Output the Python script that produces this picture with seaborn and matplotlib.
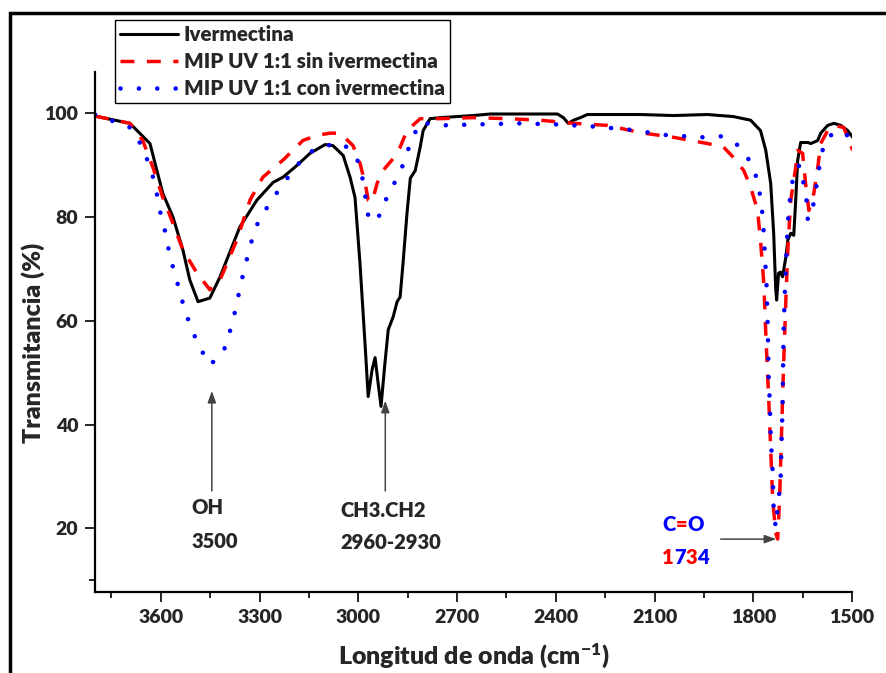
import matplotlib
matplotlib.use("Agg")
import matplotlib.pyplot as plt
import seaborn as sns
import pandas as pd
import numpy as np
from matplotlib.patches import Rectangle

# FTIR spectra (wavenumber cm-1, transmittance %)
wn_iver = [3800, 3694, 3633, 3594, 3563, 3533, 3512, 3487, 3451, 3420, 3360, 3308, 3259, 3229,
           3186, 3147, 3101, 3077, 3046, 3025, 3010, 2995, 2979, 2970, 2958, 2949, 2940, 2931,
           2919, 2909, 2894, 2882, 2873, 2864, 2852, 2842, 2827, 2812, 2803, 2782, 2751, 2651,
           2599, 2499, 2395, 2377, 2362, 2346, 2325, 2304, 2243, 2143, 2042, 1939, 1860, 1808,
           1778, 1762, 1747, 1738, 1732, 1729, 1723, 1717, 1711, 1701, 1695, 1686, 1677, 1671,
           1665, 1656, 1634, 1625, 1604, 1595, 1574, 1555, 1534, 1513, 1498]
t_iver = [99.5, 98.1, 94.2, 84.6, 80.0, 73.7, 67.9, 63.7, 64.4, 68.5, 78.1, 83.3, 86.7, 87.7,
          90.0, 92.3, 94.0, 93.8, 91.9, 87.7, 83.8, 71.2, 55.0, 45.4, 50.6, 52.9, 48.1, 43.5,
          51.9, 58.3, 60.8, 63.7, 64.6, 71.2, 80.8, 87.5, 89.0, 93.5, 96.7, 99.0, 99.2, 99.6,
          99.9, 99.9, 99.9, 99.2, 98.1, 98.7, 99.2, 99.8, 99.8, 99.8, 99.6, 99.8, 99.4, 98.7,
          96.7, 92.9, 86.5, 76.9, 66.5, 64.0, 69.2, 69.4, 68.5, 72.3, 75.6, 76.9, 76.5, 83.3,
          91.0, 94.4, 94.4, 94.2, 94.8, 96.2, 97.7, 98.1, 97.7, 96.7, 95.4]

wn_sin = [3800, 3694, 3655, 3624, 3594, 3563, 3533, 3490, 3451, 3420, 3369, 3329, 3290, 3229,
          3168, 3125, 3086, 3055, 3016, 2995, 2979, 2970, 2958, 2943, 2925, 2894, 2873, 2852,
          2812, 2751, 2651, 2547, 2447, 2346, 2243, 2143, 2042, 1939, 1890, 1860, 1829, 1808,
          1787, 1778, 1768, 1762, 1753, 1747, 1741, 1732, 1726, 1720, 1714, 1708, 1701, 1695,
          1686, 1671, 1665, 1650, 1641, 1631, 1616, 1604, 1595, 1574, 1555, 1525, 1498]
t_sin = [99.5, 98.1, 94.8, 89.6, 83.8, 78.8, 73.7, 69.2, 66.0, 67.9, 75.6, 83.3, 87.7, 91.0,
         94.8, 95.8, 96.2, 96.2, 93.8, 90.4, 86.5, 83.3, 82.9, 86.5, 89.0, 91.3, 93.5, 96.7,
         99.0, 99.0, 99.2, 99.0, 98.7, 98.1, 97.7, 96.3, 95.4, 94.2, 93.5, 91.5, 89.0, 85.8,
         81.3, 75.6, 67.3, 57.7, 44.8, 35.2, 25.6, 19.2, 17.9, 25.6, 38.5, 51.2, 64.0, 73.7,
         83.3, 89.6, 92.9, 92.3, 86.5, 81.3, 84.6, 89.6, 94.2, 96.7, 97.7, 97.3, 92.9]

wn_con = [3800, 3694, 3655, 3633, 3618, 3597, 3582, 3573, 3557, 3542, 3527, 3506, 3481, 3451,
          3411, 3393, 3378, 3366, 3354, 3341, 3326, 3308, 3277, 3238, 3198, 3156, 3101, 3046,
          3004, 2988, 2979, 2973, 2958, 2928, 2912, 2882, 2858, 2842, 2812, 2751, 2629, 2517,
          2401, 2289, 2179, 2060, 1951, 1899, 1844, 1808, 1787, 1778, 1771, 1765, 1759, 1756,
          1753, 1750, 1747, 1741, 1738, 1732, 1723, 1717, 1714, 1711, 1708, 1705, 1698, 1692,
          1683, 1677, 1659, 1647, 1637, 1634, 1619, 1610, 1595, 1580, 1540, 1498]
t_con = [99.8, 97.3, 93.5, 89.6, 86.5, 79.4, 76.2, 72.3, 69.2, 65.4, 62.1, 58.3, 54.8, 51.5,
         53.8, 57.3, 60.8, 64.4, 67.9, 71.3, 75.0, 78.5, 81.9, 85.6, 89.0, 92.3, 93.8, 94.2,
         91.3, 87.7, 84.2, 80.8, 79.0, 80.8, 84.2, 87.5, 91.0, 94.4, 98.3, 97.7, 97.9, 98.1,
         97.9, 97.5, 96.9, 95.8, 95.4, 95.6, 93.8, 90.6, 87.1, 83.7, 80.0, 73.1, 66.0, 58.8,
         48.7, 44.8, 37.7, 30.8, 23.7, 20.2, 25.6, 29.4, 36.5, 43.3, 57.7, 64.0, 75.0, 81.9,
         85.8, 89.0, 90.0, 86.5, 82.7, 79.4, 81.9, 85.2, 91.5, 95.2, 96.7, 95.2]

labels = ["Ivermectina", "MIP UV 1:1 sin ivermectina", "MIP UV 1:1 con ivermectina"]
x_ticks = [3600, 3300, 3000, 2700, 2400, 2100, 1800, 1500]
y_ticks = [20, 40, 60, 80, 100]

sns.set_style("ticks")
plt.rcParams["font.family"] = ["Lato", "DejaVu Sans"]
plt.rcParams["font.weight"] = "heavy"
plt.rcParams["mathtext.default"] = "regular"

W = "heavy"
fig = plt.figure(figsize=(8.86, 6.73), dpi=100)
ax = fig.add_axes([95 / 886, 81 / 673, 757 / 886, 520 / 673])

df_iver = pd.DataFrame({"wn": wn_iver, "T": t_iver})
df_sin = pd.DataFrame({"wn": wn_sin, "T": t_sin})
df_con = pd.DataFrame({"wn": wn_con, "T": t_con})

sns.lineplot(data=df_iver, x="wn", y="T", sort=False, color="black", lw=2.2,
             label=labels[0], ax=ax, legend=False)
sns.lineplot(data=df_sin, x="wn", y="T", sort=False, color="#ff0000", lw=2.5,
             linestyle=(0, (4.0, 3.6)), label=labels[1], ax=ax, legend=False)
sns.lineplot(data=df_con, x="wn", y="T", sort=False, color="#0000ff", lw=3.3,
             linestyle=(0, (0.01, 4.0)), dash_capstyle="round", label=labels[2], ax=ax,
             legend=False)

ax.set_xlim(3800, 1500)
ax.set_ylim(7.7, 108)
ax.set_xticks(x_ticks)
ax.set_xticks([3750, 3450, 3150, 2850, 2550, 2250, 1950, 1650], minor=True)
ax.set_yticks(y_ticks)
ax.set_yticks([10], minor=True)
ax.tick_params(axis="both", which="major", direction="out", length=7, width=1.4,
               labelsize=14, pad=5)
ax.tick_params(axis="both", which="minor", direction="out", length=4, width=1.4)
for lab in ax.get_xticklabels() + ax.get_yticklabels():
    lab.set_fontweight(W)

sns.despine(ax=ax)
for s in ["left", "bottom"]:
    ax.spines[s].set_linewidth(1.6)
    ax.spines[s].set_color("black")

ax.set_xlabel("Longitud de onda (cm$^{-1}$)", fontsize=18, fontweight=W)
ax.xaxis.set_label_coords(0.5, -0.122)
ax.xaxis.label.set_va("center")
ax.set_ylabel("Transmitancia (%)", fontsize=18, fontweight=W)
ax.yaxis.set_label_coords(-0.066, 0.48)

# annotations
arrow_kw = dict(arrowstyle="-|>,head_length=0.7,head_width=0.25", lw=1.1,
                color="#444444", shrinkA=0, shrinkB=0)
ax.annotate("", xy=(3445, 46.5), xytext=(3445, 27.2), arrowprops=arrow_kw)
ax.annotate("", xy=(2918, 44.6), xytext=(2918, 27.2), arrowprops=arrow_kw)
ax.annotate("", xy=(1730, 17.9), xytext=(1899, 17.9), arrowprops=arrow_kw)

txt_kw = dict(fontsize=14.5, fontweight=W, ha="left", va="center")
ax.text(3506, 24.0, "OH", **txt_kw)
ax.text(3506, 17.5, "3500", **txt_kw)
ax.text(3055, 23.5, "CH3.CH2", **txt_kw)
ax.text(3055, 17.3, "2960-2930", **txt_kw)


def color_text(x, y, parts):
    prev = ax.text(x, y, parts[0][0], color=parts[0][1], **txt_kw)
    for ch, col in parts[1:]:
        prev = ax.annotate(ch, xy=(1, 0), xycoords=prev, va="bottom", ha="left",
                           fontsize=14.5, fontweight=W, color=col)


color_text(2076, 20.8, [("C", "#0000ff"), ("=", "#ff0000"), ("O", "#0000ff")])
color_text(2076, 14.4, [("1", "#ff0000"), ("7", "#0000ff"), ("3", "#ff0000"), ("4", "#0000ff")])

handles, _ = ax.get_legend_handles_labels()
fig.legend(handles, labels, loc="upper left", bbox_to_anchor=(115 / 886, 1 - 20 / 673),
           frameon=True, fancybox=False, edgecolor="black", framealpha=1,
           prop=dict(size=14.8, weight=W), handlelength=2.8, handletextpad=0.3,
           labelspacing=0.38, borderpad=0.25, borderaxespad=0)

# outer frame of the original figure
fig.patches.append(Rectangle((10 / 886, -0.1), 1.5, 1 - 13 / 673 + 0.1,
                             transform=fig.transFigure, fill=False, lw=2.5,
                             edgecolor="black"))

fig.savefig("out.png", dpi=100)
